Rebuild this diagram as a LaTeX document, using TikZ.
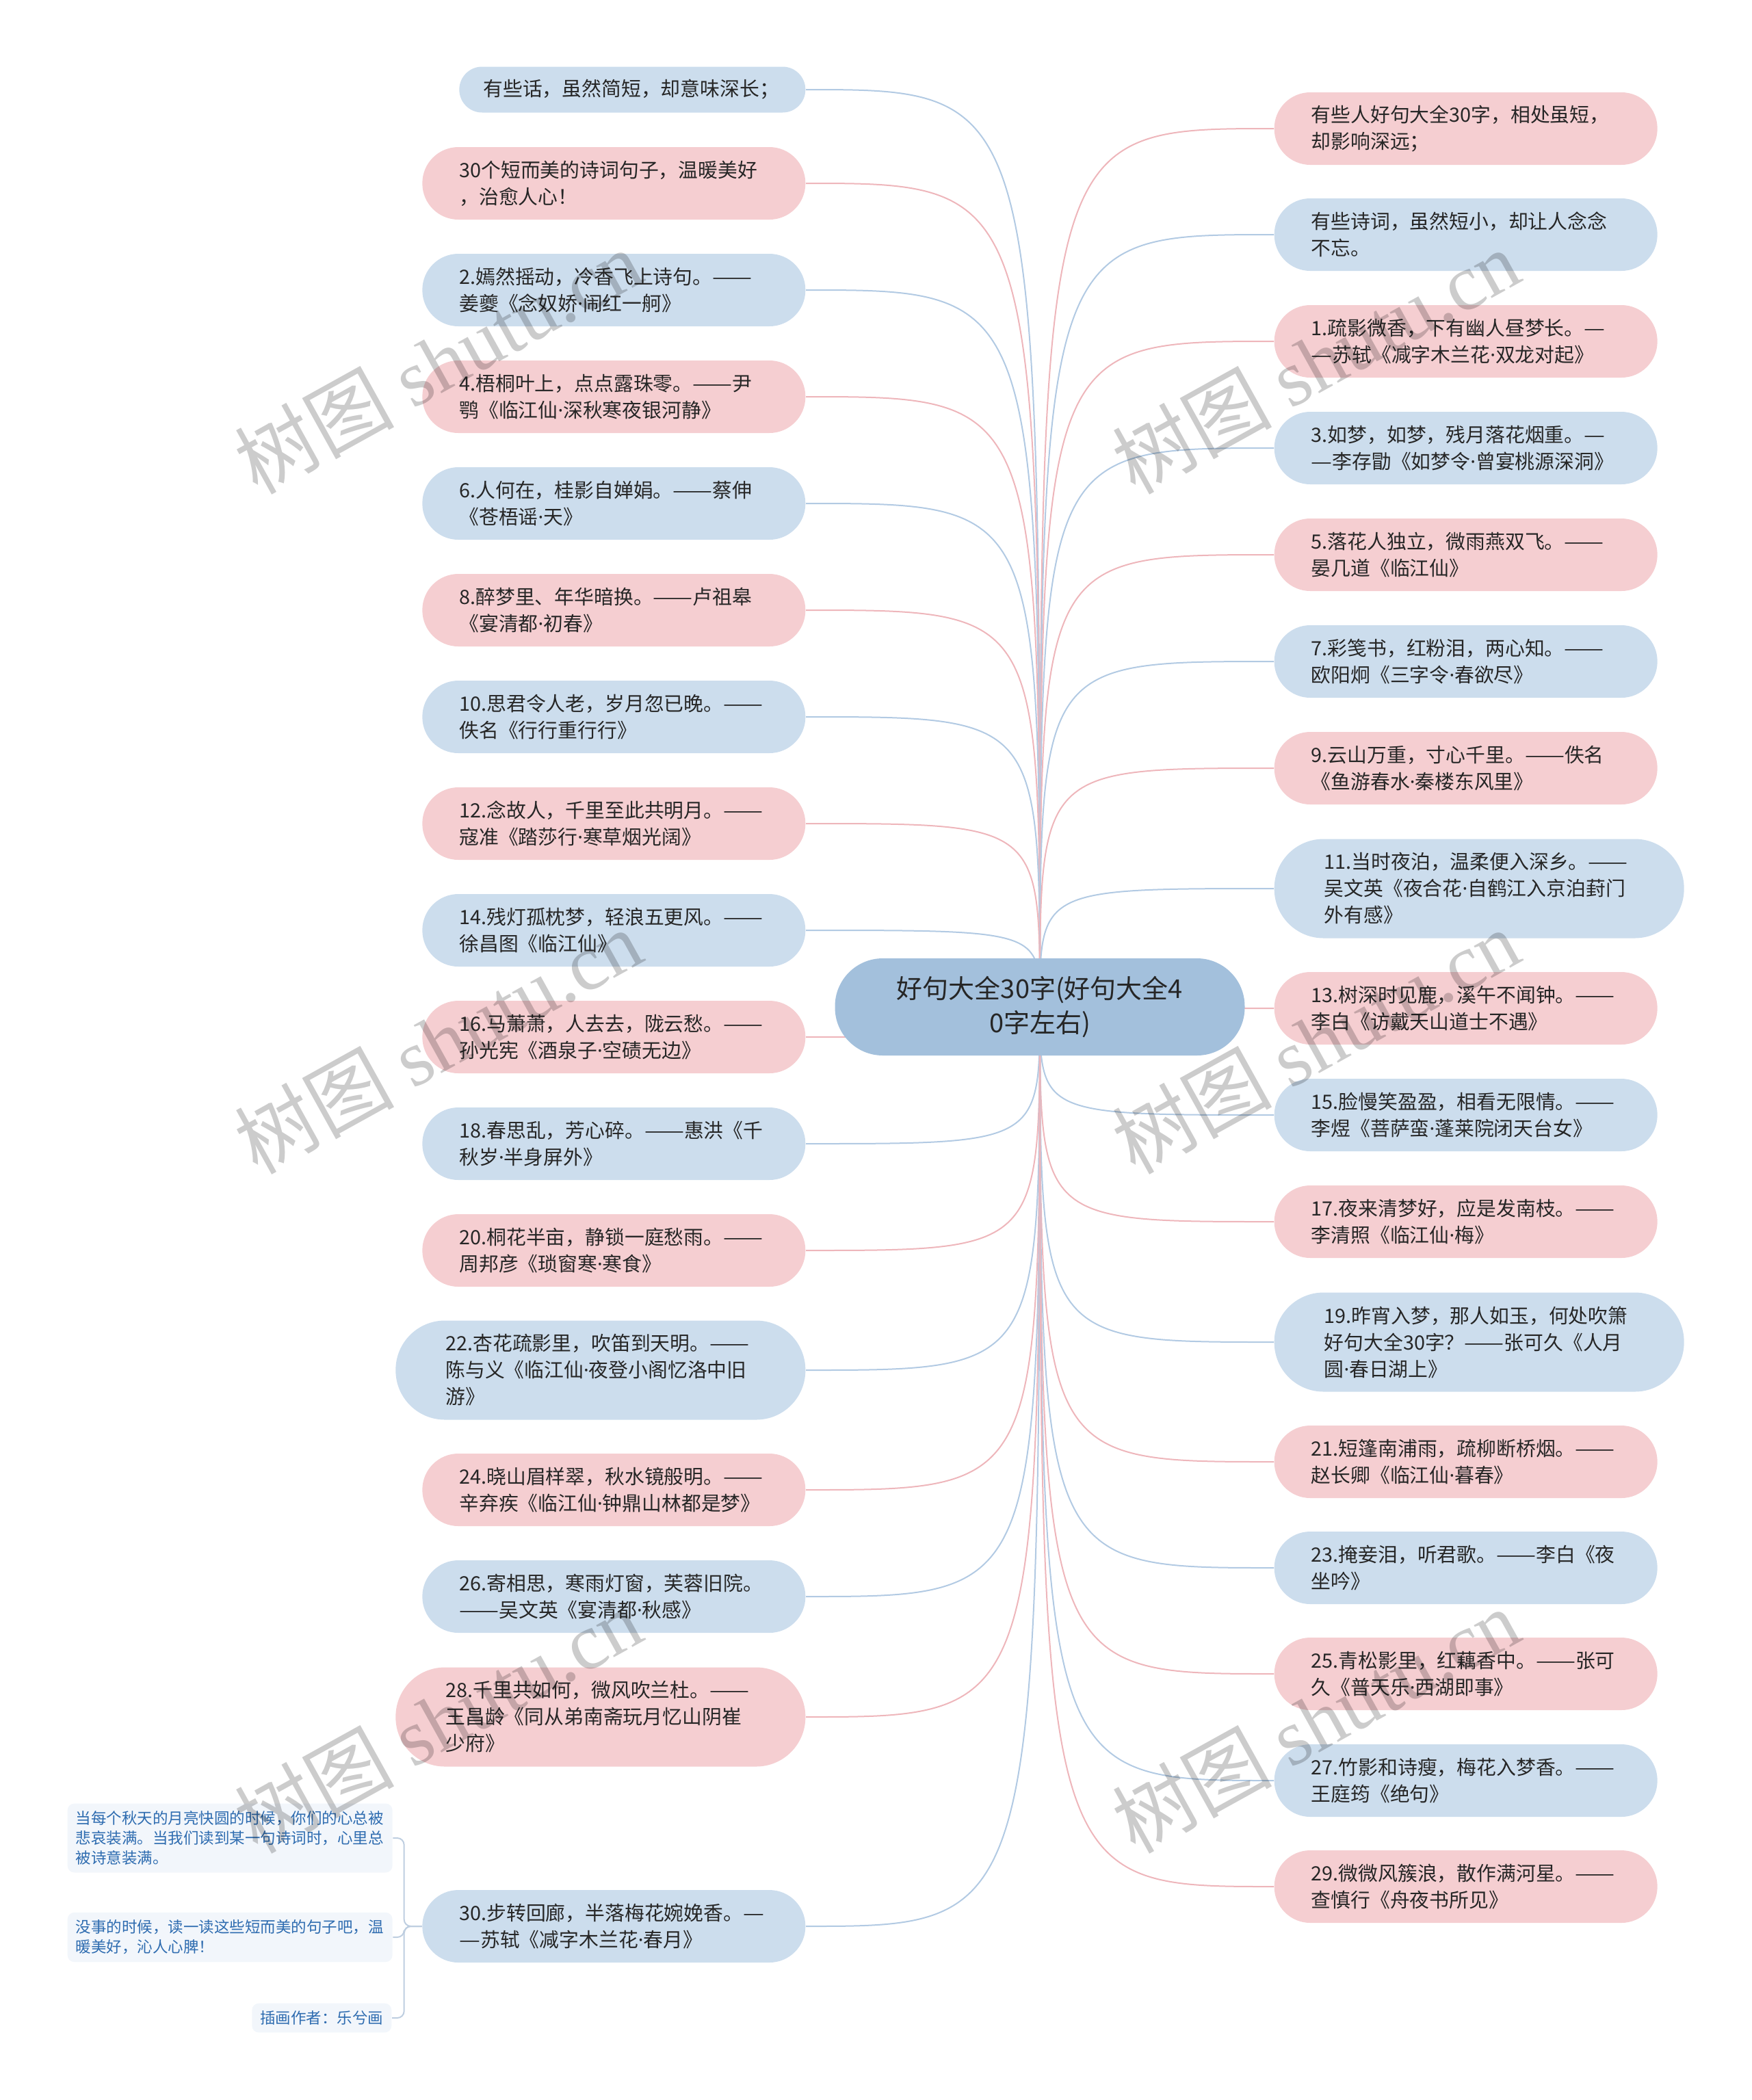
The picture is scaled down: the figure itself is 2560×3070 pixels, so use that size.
\documentclass[tikz,border=0pt]{standalone}
\usepackage{graphicx}
\usepackage{fontspec}
\setmainfont{Noto Sans CJK SC}
\newfontfamily\wmserif{Liberation Serif}
\newfontfamily\latinf{Noto Sans}
\usetikzlibrary{backgrounds}
\definecolor{pinkfill}{RGB}{245,206,209}
\definecolor{bluefill}{RGB}{204,221,237}
\definecolor{rootfill}{RGB}{163,192,220}
\definecolor{pinkline}{RGB}{238,182,187}
\definecolor{blueline}{RGB}{178,202,227}
\definecolor{txt}{RGB}{38,38,38}
\definecolor{notetxt}{RGB}{46,108,176}
\definecolor{notefill}{RGB}{242,246,251}
\definecolor{noteline}{RGB}{190,206,224}
\newcommand\mmleaf{\fontsize{8.65pt}{11.7pt}\selectfont}
\newcommand\mmroot{\fontsize{11.4pt}{15.2pt}\selectfont}
\newcommand\mmnote{\fontsize{6.75pt}{8.7pt}\selectfont}
\newcommand\mmwm{\fontsize{35pt}{40pt}\selectfont}
\newcommand\ml[1]{\mbox{#1}}
\newcommand\mdt{{\latinf ·}}
\newcommand\dd{\scalebox{1.2}[1]{——}}
\newcommand\sd{\scalebox{1.2}[1]{—}}
\begin{document}
\begin{tikzpicture}[x=0.3pt,y=-0.3pt,
  leaf/.style={rectangle, text=txt, font=\mmleaf, align=left, inner ysep=0pt,
    inner xsep=16.2pt, text width=135.6pt, minimum height=31.8pt, rounded corners=15.8pt},
  leafone/.style={leaf, inner xsep=10.5pt, text width=130.8pt, minimum height=20.1pt, rounded corners=10pt},
  leafthree/.style={leaf, inner xsep=21.9pt, text width=135.9pt, minimum height=43.5pt, rounded corners=21.6pt},
  pk/.style={fill=pinkfill}, bl/.style={fill=bluefill},
  lft/.style={anchor=east}, rgt/.style={anchor=west},
  pkl/.style={draw=pinkline, line width=0.6pt},
  bll/.style={draw=blueline, line width=0.6pt},
  root/.style={rectangle, fill=rootfill, text=txt, font=\mmroot, align=center,
    text width=149.7pt, inner xsep=15pt, inner ysep=0pt, minimum height=42.6pt, rounded corners=21pt},
  note/.style={rectangle, fill=notefill, text=notetxt, font=\mmnote, align=left,
    inner xsep=3.6pt, inner ysep=3.3pt, rounded corners=3pt},
  wm/.style={text=black, text opacity=0.2, font=\mmwm, rotate=29, inner sep=0pt}
]
\useasboundingbox (0,0) rectangle (2560,3070);

\node[root] (C) at (1520,1472) {\ml{好句大全30字(好句大全4}\\\ml{0字左右)}};

% left leaves
\node[leafone, bl, lft] (L0) at (1178,131) {\ml{有些话，虽然简短，却意味深长；}};
\node[leaf, pk, lft] (L1) at (1178,268) {\ml{30个短而美的诗词句子，温暖美好}\\\ml{，治愈人心！}};
\node[leaf, bl, lft] (L2) at (1178,424) {\ml{2.嫣然摇动，冷香飞上诗句。\dd}\\\ml{姜夔《念奴娇\mdt 闹红一舸》}};
\node[leaf, pk, lft] (L3) at (1178,580) {\ml{4.梧桐叶上，点点露珠零。\dd 尹}\\\ml{鹗《临江仙\mdt 深秋寒夜银河静》}};
\node[leaf, bl, lft] (L4) at (1178,736) {\ml{6.人何在，桂影自婵娟。\dd 蔡伸}\\\ml{《苍梧谣\mdt 天》}};
\node[leaf, pk, lft] (L5) at (1178,892) {\ml{8.醉梦里、年华暗换。\dd 卢祖皋}\\\ml{《宴清都\mdt 初春》}};
\node[leaf, bl, lft] (L6) at (1178,1048) {\ml{10.思君令人老，岁月忽已晚。\dd}\\\ml{佚名《行行重行行》}};
\node[leaf, pk, lft] (L7) at (1178,1204) {\ml{12.念故人，千里至此共明月。\dd}\\\ml{寇准《踏莎行\mdt 寒草烟光阔》}};
\node[leaf, bl, lft] (L8) at (1178,1360) {\ml{14.残灯孤枕梦，轻浪五更风。\dd}\\\ml{徐昌图《临江仙》}};
\node[leaf, pk, lft] (L9) at (1178,1516) {\ml{16.马萧萧，人去去，陇云愁。\dd}\\\ml{孙光宪《酒泉子\mdt 空碛无边》}};
\node[leaf, bl, lft] (L10) at (1178,1672) {\ml{18.春思乱，芳心碎。\dd 惠洪《千}\\\ml{秋岁\mdt 半身屏外》}};
\node[leaf, pk, lft] (L11) at (1178,1828) {\ml{20.桐花半亩，静锁一庭愁雨。\dd}\\\ml{周邦彦《琐窗寒\mdt 寒食》}};
\node[leafthree, bl, lft] (L12) at (1178,2003) {\ml{22.杏花疏影里，吹笛到天明。\dd}\\\ml{陈与义《临江仙\mdt 夜登小阁忆洛中旧}\\\ml{游》}};
\node[leaf, pk, lft] (L13) at (1178,2178) {\ml{24.晓山眉样翠，秋水镜般明。\dd}\\\ml{辛弃疾《临江仙\mdt 钟鼎山林都是梦》}};
\node[leaf, bl, lft] (L14) at (1178,2334) {\ml{26.寄相思，寒雨灯窗，芙蓉旧院。}\\\ml{\dd 吴文英《宴清都\mdt 秋感》}};
\node[leafthree, pk, lft] (L15) at (1178,2510) {\ml{28.千里共如何，微风吹兰杜。\dd}\\\ml{王昌龄《同从弟南斋玩月忆山阴崔}\\\ml{少府》}};
\node[leaf, bl, lft] (L16) at (1178,2816) {\ml{30.步转回廊，半落梅花婉娩香。\sd}\\\ml{\sd 苏轼《减字木兰花\mdt 春月》}};

% right leaves
\node[leaf, pk, rgt] (R0) at (1862,188) {\ml{有些人好句大全30字，相处虽短，}\\\ml{却影响深远；}};
\node[leaf, bl, rgt] (R1) at (1862,343) {\ml{有些诗词，虽然短小，却让人念念}\\\ml{不忘。}};
\node[leaf, pk, rgt] (R2) at (1862,499) {\ml{1.疏影微香，下有幽人昼梦长。\sd}\\\ml{\sd 苏轼《减字木兰花\mdt 双龙对起》}};
\node[leaf, bl, rgt] (R3) at (1862,655) {\ml{3.如梦，如梦，残月落花烟重。\sd}\\\ml{\sd 李存勖《如梦令\mdt 曾宴桃源深洞》}};
\node[leaf, pk, rgt] (R4) at (1862,811) {\ml{5.落花人独立，微雨燕双飞。\dd}\\\ml{晏几道《临江仙》}};
\node[leaf, bl, rgt] (R5) at (1862,967) {\ml{7.彩笺书，红粉泪，两心知。\dd}\\\ml{欧阳炯《三字令\mdt 春欲尽》}};
\node[leaf, pk, rgt] (R6) at (1862,1123) {\ml{9.云山万重，寸心千里。\dd 佚名}\\\ml{《鱼游春水\mdt 秦楼东风里》}};
\node[leafthree, bl, rgt] (R7) at (1862,1299) {\ml{11.当时夜泊，温柔便入深乡。\dd}\\\ml{吴文英《夜合花\mdt 自鹤江入京泊葑门}\\\ml{外有感》}};
\node[leaf, pk, rgt] (R8) at (1862,1474) {\ml{13.树深时见鹿，溪午不闻钟。\dd}\\\ml{李白《访戴天山道士不遇》}};
\node[leaf, bl, rgt] (R9) at (1862,1630) {\ml{15.脸慢笑盈盈，相看无限情。\dd}\\\ml{李煜《菩萨蛮\mdt 蓬莱院闭天台女》}};
\node[leaf, pk, rgt] (R10) at (1862,1786) {\ml{17.夜来清梦好，应是发南枝。\dd}\\\ml{李清照《临江仙\mdt 梅》}};
\node[leafthree, bl, rgt] (R11) at (1862,1962) {\ml{19.昨宵入梦，那人如玉，何处吹箫}\\\ml{好句大全30字？\dd 张可久《人月}\\\ml{圆\mdt 春日湖上》}};
\node[leaf, pk, rgt] (R12) at (1862,2137) {\ml{21.短篷南浦雨，疏柳断桥烟。\dd}\\\ml{赵长卿《临江仙\mdt 暮春》}};
\node[leaf, bl, rgt] (R13) at (1862,2292) {\ml{23.掩妾泪，听君歌。\dd 李白《夜}\\\ml{坐吟》}};
\node[leaf, pk, rgt] (R14) at (1862,2447) {\ml{25.青松影里，红藕香中。\dd 张可}\\\ml{久《普天乐\mdt 西湖即事》}};
\node[leaf, bl, rgt] (R15) at (1862,2603) {\ml{27.竹影和诗瘦，梅花入梦香。\dd}\\\ml{王庭筠《绝句》}};
\node[leaf, pk, rgt] (R16) at (1862,2758) {\ml{29.微微风簇浪，散作满河星。\dd}\\\ml{查慎行《舟夜书所见》}};

% notes
\node[note, text width=135.3pt, anchor=west] (N1) at (98,2687) {\ml{当每个秋天的月亮快圆的时候，你们的心总被}\\\ml{悲哀装满。当我们读到某一句诗词时，心里总}\\\ml{被诗意装满。}};
\node[note, text width=135.3pt, anchor=west] (N2) at (98,2832) {\ml{没事的时候，读一读这些短而美的句子吧，温}\\\ml{暖美好，沁人心脾！}};
\node[note, anchor=east] (N3) at (573,2950) {插画作者：乐兮画};

\begin{scope}[on background layer]
\foreach \n/\s in {L0/bll,L1/pkl,L2/bll,L3/pkl,L4/bll,L5/pkl,L6/bll,L7/pkl,L8/bll,L9/pkl,L10/bll,L11/pkl,L12/bll,L13/pkl,L14/bll,L15/pkl,L16/bll}
  \draw[\s] (C.center) .. controls (C.center |- \n.east) .. (\n.east);
\foreach \n/\s in {R0/pkl,R1/bll,R2/pkl,R3/bll,R4/pkl,R5/bll,R6/pkl,R7/bll,R8/pkl,R9/bll,R10/pkl,R11/bll,R12/pkl,R13/bll,R14/pkl,R15/bll,R16/pkl}
  \draw[\s] (C.center) .. controls (C.center |- \n.west) .. (\n.west);
\foreach \n in {N1,N2,N3}
  \draw[draw=noteline, line width=0.6pt, rounded corners=3pt] (L16.west) -- ([xshift=-7.8pt]L16.west) |- (\n.east);
\end{scope}

% watermarks
\node[wm] (W1) at (640,528) {树图 {\wmserif shutu.cn}};
\node[wm] (W2) at (1923,528) {树图 {\wmserif shutu.cn}};
\node[wm] (W3) at (640,1522) {树图 {\wmserif shutu.cn}};
\node[wm] (W4) at (1923,1522) {树图 {\wmserif shutu.cn}};
\node[wm] (W5) at (640,2515) {树图 {\wmserif shutu.cn}};
\node[wm] (W6) at (1923,2515) {树图 {\wmserif shutu.cn}};
\end{tikzpicture}
\end{document}
